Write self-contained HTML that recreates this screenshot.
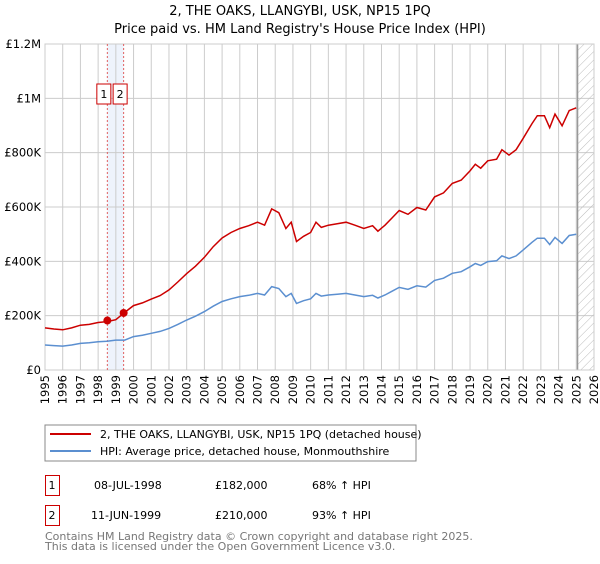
<!DOCTYPE html>
<html><head><meta charset="utf-8"><style>
body{margin:0;background:#fff;font-family:"DejaVu Sans","Liberation Sans",sans-serif;}
svg text{font-family:"DejaVu Sans","Liberation Sans",sans-serif;}
</style></head><body>
<svg id="chart" width="600" height="560" xmlns="http://www.w3.org/2000/svg">
<defs><pattern id="hatch" width="6" height="6" patternUnits="userSpaceOnUse" patternTransform="rotate(45)"><line x1="0" y1="0" x2="0" y2="6" stroke="#bbb" stroke-width="1"/></pattern></defs>
<text x="300" y="15" text-anchor="middle" font-size="13">2, THE OAKS, LLANGYBI, USK, NP15 1PQ</text>
<text x="300" y="33" text-anchor="middle" font-size="13">Price paid vs. HM Land Registry's House Price Index (HPI)</text>
<g id="grid"></g><g id="marks"></g>
<rect x="45" y="425" width="371" height="36" fill="#fff" stroke="#888"/>
<line x1="50" y1="434" x2="91" y2="434" stroke="#cc0000" stroke-width="2"/>
<text x="100" y="438" font-size="11">2, THE OAKS, LLANGYBI, USK, NP15 1PQ (detached house)</text>
<line x1="50" y1="451" x2="91" y2="451" stroke="#5b8fd0" stroke-width="2"/>
<text x="100" y="455" font-size="11">HPI: Average price, detached house, Monmouthshire</text>
<g>
<rect x="45.5" y="475.5" width="14" height="20" fill="none" stroke="#cc0000"/><text x="52" y="489" text-anchor="middle" font-size="11">1</text>
<text x="94" y="489" font-size="11">08-JUL-1998</text><text x="215" y="489" font-size="11">£182,000</text><text x="312" y="489" font-size="11">68% ↑ HPI</text></g>
<g>
<rect x="45.5" y="505.5" width="14" height="20" fill="none" stroke="#cc0000"/><text x="52" y="519" text-anchor="middle" font-size="11">2</text>
<text x="91" y="519" font-size="11">11-JUN-1999</text><text x="215" y="519" font-size="11">£210,000</text><text x="312" y="519" font-size="11">93% ↑ HPI</text></g>
<text x="45" y="540" font-size="11" fill="#777">Contains HM Land Registry data © Crown copyright and database right 2025.</text>
<text x="45" y="550" font-size="11" fill="#777">This data is licensed under the Open Government Licence v3.0.</text>
</svg>
<script>
const years=[1995.0,1995.5,1996.0,1996.5,1997.0,1997.5,1998.0,1998.5,1999.0,1999.5,2000.0,2000.5,2001.0,2001.5,2002.0,2002.5,2003.0,2003.5,2004.0,2004.5,2005.0,2005.5,2006.0,2006.5,2007.0,2007.4,2007.8,2008.2,2008.6,2008.9,2009.2,2009.6,2010.0,2010.3,2010.6,2011.0,2011.5,2012.0,2012.5,2013.0,2013.5,2013.8,2014.2,2014.6,2015.0,2015.5,2016.0,2016.5,2017.0,2017.5,2018.0,2018.5,2019.0,2019.3,2019.6,2020.0,2020.5,2020.8,2021.2,2021.6,2022.0,2022.5,2022.8,2023.2,2023.5,2023.8,2024.2,2024.6,2025.0];
const hpi=[92,90,88,92,98,100,104,106,110,110,123,128,135,142,153,168,184,198,215,235,252,262,270,275,282,276,307,300,270,282,245,255,262,282,272,276,279,282,276,270,275,265,276,290,304,297,310,305,330,338,356,362,380,392,385,399,402,420,410,420,442,470,485,485,462,488,466,495,500];
const property=[155,151,148,155,165,168,175,178,185,212,237,247,261,274,295,324,355,382,415,454,486,506,521,531,544,533,593,579,521,544,473,492,506,544,525,533,538,544,533,521,531,511,533,560,587,573,598,589,637,652,687,699,733,757,743,770,776,811,791,811,853,907,936,936,892,942,899,955,965];
const saleYears=[1998.52,1999.44];
const saleValues=[182,210];
const saleLabels=['1','2'];
const yTicks=[0,200,400,600,800,1000,1200];
const yTickLabels=['£0','£200K','£400K','£600K','£800K','£1M','£1.2M'];
const xTicks=[1995,1996,1997,1998,1999,2000,2001,2002,2003,2004,2005,2006,2007,2008,2009,2010,2011,2012,2013,2014,2015,2016,2017,2018,2019,2020,2021,2022,2023,2024,2025,2026];
const dataEnd=2025.07;
const X0=45,X1=594,Y0=370,Y1=44;
const xs=y=>X0+(y-1995)/31*(X1-X0);
const ys=v=>Y0-v/1200*(Y0-Y1);
const NS='http://www.w3.org/2000/svg';
function mk(tag,attrs,parent){const e=document.createElementNS(NS,tag);for(const k in attrs)e.setAttribute(k,attrs[k]);parent.appendChild(e);return e;}
const grid=document.getElementById('grid'),marks=document.getElementById('marks');
let band=mk('rect',{x:xs(saleYears[0]),y:Y1,width:xs(saleYears[1])-xs(saleYears[0]),height:Y0-Y1,fill:'#eef3fc'},grid);


yTicks.forEach((t,i)=>{
 const l=mk('line',{x1:X0,x2:X1,y1:ys(t),y2:ys(t),stroke:'#ccc'},grid);
 
 
 const tx=mk('text',{x:X0-4,y:ys(t)+4,'text-anchor':'end','font-size':'11.5'},grid);tx.textContent=yTickLabels[i];
 
 
});
xTicks.forEach(t=>{
 const l=mk('line',{x1:xs(t),x2:xs(t),y1:Y1,y2:Y0,stroke:'#ccc'},grid);
 
 
 const tx=mk('text',{x:0,y:0,'text-anchor':'end','font-size':'11.5',transform:`translate(${xs(t)+4},${Y0+5}) rotate(-90)`},grid);tx.textContent=t;
 
 
});
let hat=mk('rect',{x:xs(dataEnd),y:Y1,width:X1-xs(dataEnd),height:Y0-Y1,fill:'url(#hatch)'},grid);


let el=mk('line',{x1:xs(dataEnd),x2:xs(dataEnd),y1:Y1,y2:Y0,stroke:'#999','stroke-width':1.5},grid);


let frame=mk('rect',{x:X0,y:Y1,width:X1-X0,height:Y0-Y1,fill:'none',stroke:'#ccc'},grid);


saleYears.forEach((s,i)=>{
 const l=mk('line',{x1:xs(s),x2:xs(s),y1:Y1,y2:Y0,stroke:'#e06060','stroke-dasharray':'2,2'},marks);
 
 
 const bx=xs(s)-10.5;
 const r=mk('rect',{x:bx,y:84,width:14,height:20,fill:'#fff',stroke:'#cc0000'},marks);
 
 
 const t=mk('text',{x:bx+7,y:98,'text-anchor':'middle','font-size':'11'},marks);t.textContent=saleLabels[i];
 
 
});
const path=arr=>arr.map((v,i)=>(i?'L':'M')+xs(years[i]).toFixed(1)+','+ys(v).toFixed(1)).join('');
let hl=mk('path',{d:path(hpi),fill:'none',stroke:'#5b8fd0','stroke-width':1.5},marks);


let pl=mk('path',{d:path(property),fill:'none',stroke:'#cc0000','stroke-width':1.5},marks);


saleYears.forEach((s,i)=>{
 const c=mk('circle',{cx:xs(s),cy:ys(saleValues[i]),r:4,fill:'#cc0000'},marks);
 
 
});
</script>
</body></html>
